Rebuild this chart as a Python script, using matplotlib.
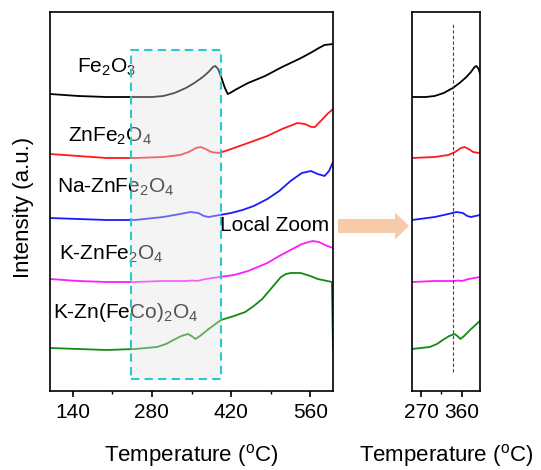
import matplotlib
matplotlib.use("Agg")
import matplotlib.pyplot as plt
from matplotlib.patches import Rectangle, FancyArrow
from matplotlib.ticker import MultipleLocator, FixedLocator

plt.rcParams["font.family"] = ["Liberation Sans", "DejaVu Sans"]
plt.rcParams["mathtext.fontset"] = "custom"
plt.rcParams["mathtext.rm"] = "Liberation Sans"
plt.rcParams["mathtext.default"] = "regular"

# curves: temperature (C) and intensity (a.u., stacked offsets)
FE2O3_T = [100, 150, 200, 250, 280, 300, 320, 340, 355, 370, 380, 388, 392, 397, 403,
           409, 414, 418, 430, 450, 480, 510, 540, 560, 575, 585, 600]
FE2O3_I = [376, 374, 373, 373, 373, 374, 377, 382, 387, 393, 398, 403, 404, 401, 392,
           382, 376, 377, 381, 387, 394, 403, 411, 417, 422, 425, 426]

ZNFE_T = [100, 150, 200, 250, 300, 330, 345, 358, 366, 375, 385, 398, 410, 425, 450,
          484, 510, 537, 550, 562, 568, 580, 590, 600]
ZNFE_I = [316, 314, 312, 312, 313, 315, 318, 322, 323, 321, 318, 317, 319, 322, 327,
          334, 341, 347, 346, 343, 343, 350, 356, 361]

NA_T = [100, 150, 200, 250, 300, 330, 348, 362, 372, 380, 390, 400, 420, 440, 460,
        484, 505, 525, 545, 561, 573, 585, 593, 600]
NA_I = [252, 251, 250, 250, 253, 256, 258, 257, 254, 253, 254, 255, 257, 260, 264,
        271, 279, 289, 297, 299, 296, 294, 299, 308]

K_T = [100, 150, 200, 250, 300, 340, 352, 360, 375, 400, 425, 450, 484, 505, 525,
       545, 564, 575, 590, 600]
K_I = [191, 189, 188, 188, 189, 189, 189.5, 189, 191, 193, 195, 199, 207, 214, 220,
       226, 229, 228, 224, 222]

KCO_T = [100, 150, 200, 250, 289, 305, 318, 332, 344, 350, 357, 365, 378, 390, 402,
         425, 445, 460, 475, 484, 496, 508, 517, 525, 543, 560, 573, 590, 598, 600]
KCO_I = [122, 121, 120, 121, 123, 126, 130, 134, 136, 134, 131, 134, 140, 145, 150,
         154, 158, 164, 171, 177, 185, 193, 196, 197, 197, 194, 191, 189, 188, 121]

SERIES = [
    (FE2O3_T, FE2O3_I, "black"),
    (ZNFE_T, ZNFE_I, "#ff1a1a"),
    (NA_T, NA_I, "#1a1aff"),
    (K_T, K_I, "#ff1aff"),
    (KCO_T, KCO_I, "#138a13"),
]

LABELS = ["Fe$_2$O$_3$", "ZnFe$_2$O$_4$", "Na-ZnFe$_2$O$_4$", "K-ZnFe$_2$O$_4$",
          "K-Zn(FeCo)$_2$O$_4$"]
LABEL_X = [148, 132, 112, 116, 105]
LABEL_Y = [397, 328, 277, 210, 152]

MAIN_TICKS = [140, 280, 420, 560]
ZOOM_TICKS = [270, 360]
ZOOM_RANGE = (243, 402)
ZOOM_LINE = 340

fig = plt.figure(figsize=(5.41, 4.70), dpi=100)
ax = fig.add_axes([50 / 541, 79 / 470, 283 / 541, 379 / 470])
axz = fig.add_axes([412 / 541, 79 / 470, 68 / 541, 379 / 470])

for a in (ax, axz):
    for t, i, c in SERIES:
        a.plot(t, i, color=c, lw=1.3)
    a.set_ylim(79, 458)
    a.set_yticks([])
    for s in a.spines.values():
        s.set_linewidth(1.2)
    a.tick_params(axis="x", which="major", direction="out", length=4, width=1.2,
                  labelsize=15, pad=5)
    a.tick_params(axis="x", which="minor", direction="out", length=2.5, width=1.0)
    a.set_xlabel("Temperature ($^{o}$C)", fontsize=16, labelpad=14)

ax.set_xlim(100, 600)
ax.xaxis.set_major_locator(FixedLocator(MAIN_TICKS))
ax.xaxis.set_minor_locator(MultipleLocator(70))
ax.set_ylabel("Intensity (a.u.)", fontsize=16)
ax.yaxis.set_label_coords(-0.058, 0.485)

axz.set_xlim(250, 400)
axz.xaxis.set_major_locator(FixedLocator(ZOOM_TICKS))
axz.xaxis.set_minor_locator(MultipleLocator(45))
axz.plot([ZOOM_LINE, ZOOM_LINE], [98, 447], color="#444444", lw=0.8,
         ls=(0, (3, 2)))

for lab, x, y in zip(LABELS, LABEL_X, LABEL_Y):
    ax.text(x, y, lab, fontsize=15, va="baseline", ha="left")
fig.text(220 / 541, (470 - 231) / 470, "Local Zoom", fontsize=15,
         va="baseline", ha="left")

# dashed zoom window, drawn over the curves and labels
ax.add_patch(Rectangle((ZOOM_RANGE[0], 91), ZOOM_RANGE[1] - ZOOM_RANGE[0], 329,
                       facecolor=(0.89, 0.89, 0.89, 0.37), edgecolor="#2bc8d2",
                       lw=1.5, ls=(0, (4, 2.5)), zorder=5))

fig.patches.append(FancyArrow(3.38, 2.44, 0.57, 0, width=0.14, head_width=0.27,
                              head_length=0.14, length_includes_head=False,
                              color="#f7cbaa", lw=0,
                              transform=fig.dpi_scale_trans, figure=fig))

fig.savefig("out.png", dpi=100)
